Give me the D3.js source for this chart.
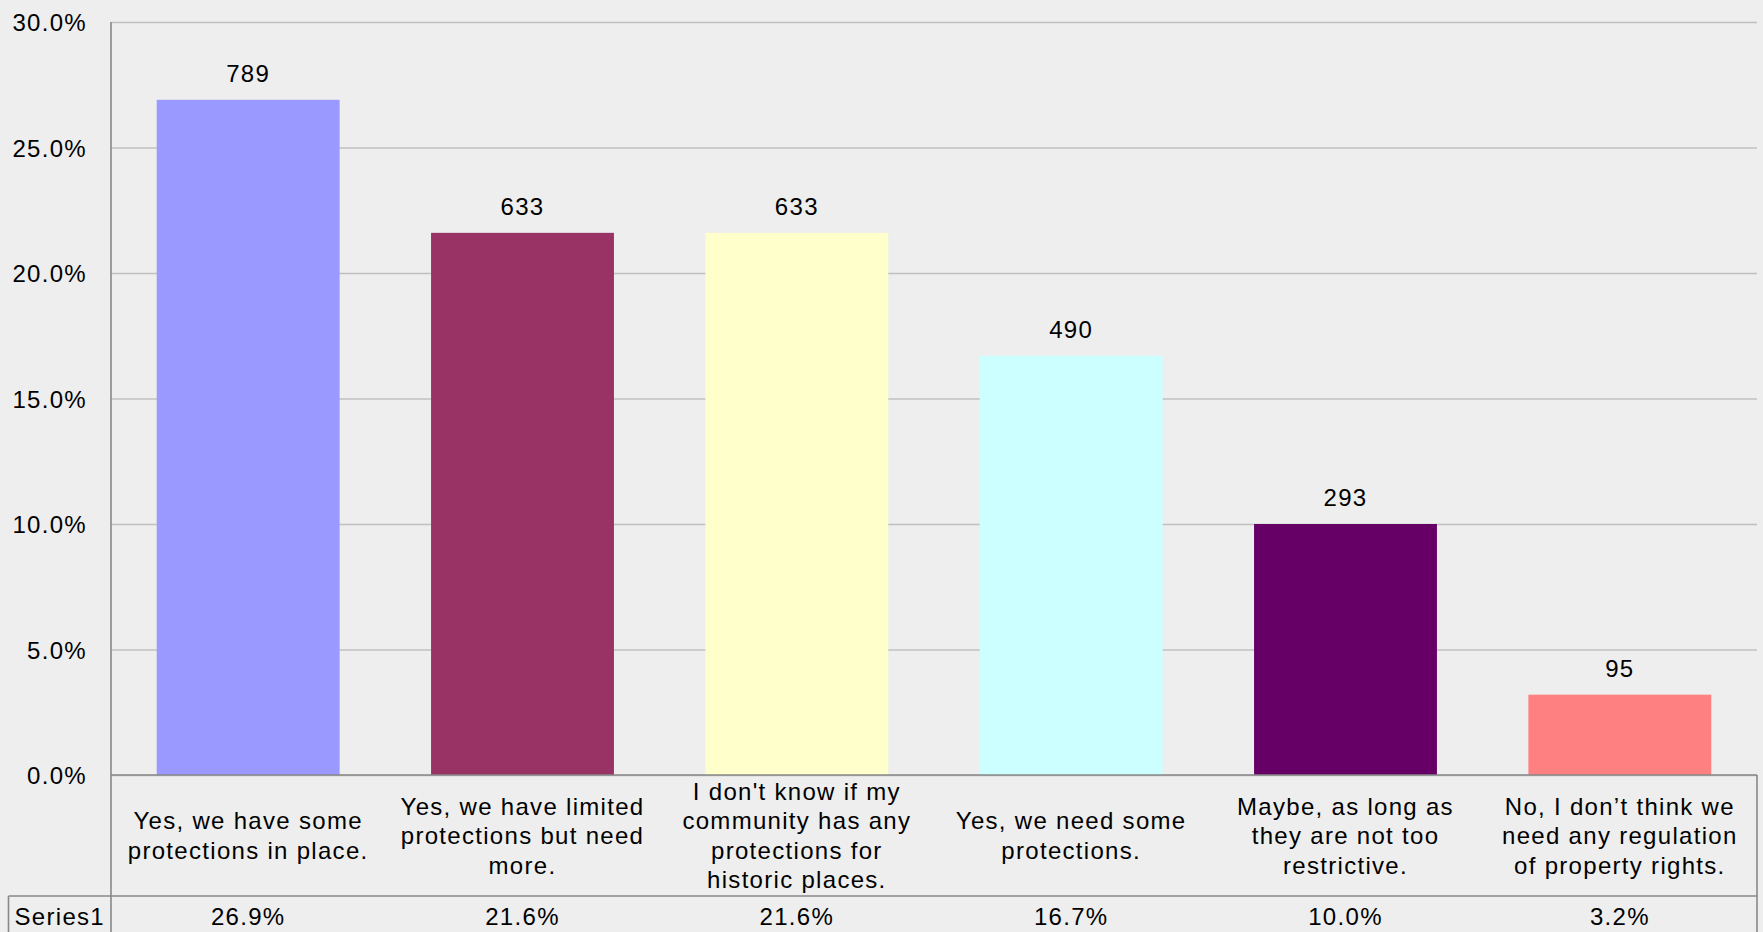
<!DOCTYPE html>
<html><head><meta charset="utf-8">
<script src="https://cdn.jsdelivr.net/npm/d3@7"></script>
<style>
body{margin:0;background:#eeeeee;}
svg{display:block;}
text{font-family:"Liberation Sans",Arial,sans-serif;font-size:24px;letter-spacing:1.3px;fill:#000;}
</style>
</head><body>
<svg id="chart" width="1763" height="932"></svg>
<script>
const categories = [
  "Yes, we have some protections in place.",
  "Yes, we have limited protections but need more.",
  "I don't know if my community has any protections for historic places.",
  "Yes, we need some protections.",
  "Maybe, as long as they are not too restrictive.",
  "No, I don\u2019t think we need any regulation of property rights."
];
const percents = [26.9, 21.6, 21.6, 16.7, 10.0, 3.2];
const counts = [789, 633, 633, 490, 293, 95];
const colors = ["#9999FF", "#993366", "#FFFFCC", "#CCFFFF", "#660066", "#FF8080"];
const yTicks = [0, 5, 10, 15, 20, 25, 30];
const seriesName = "Series1";

const W = 1763, H = 932;
const plotLeft = 111, plotRight = 1757, plotTop = 22, plotBottom = 775;
const rowSep = 896, tableBottom = 938, seriesLeft = 8.5;

const svg = d3.select("#chart");
svg.append("rect").attr("width", W).attr("height", H).attr("fill", "#eeeeee");

const x = d3.scaleBand().domain(categories).range([plotLeft, plotRight])
  .paddingInner(1/3).paddingOuter(1/6);
const y = d3.scaleLinear().domain([0, 30]).range([plotBottom, plotTop]);

// gridlines + tick labels
const yAxis = d3.axisLeft(y).tickValues(yTicks)
  .tickSize(-(plotRight - plotLeft)).tickPadding(24)
  .tickFormat(d => d.toFixed(1) + "%");
const gy = svg.append("g").attr("transform", `translate(${plotLeft},0)`).call(yAxis);
gy.select(".domain").remove();
gy.selectAll(".tick line").attr("stroke", "#c0c0c0").attr("stroke-width", 1.6);
gy.selectAll(".tick text").attr("font-size", null).attr("font-family", null)
  .style("font-size", "24px").attr("fill", "#000").attr("dy", "0.36em");

// bars
svg.append("g").selectAll("rect").data(categories).join("rect")
  .attr("x", d => x(d))
  .attr("y", (d, i) => y(percents[i]))
  .attr("width", x.bandwidth())
  .attr("height", (d, i) => y(0) - y(percents[i]))
  .attr("fill", (d, i) => colors[i]);

// count labels
svg.append("g").selectAll("text").data(categories).join("text")
  .attr("x", d => x(d) + x.bandwidth() / 2)
  .attr("y", (d, i) => y(percents[i]) - 18)
  .attr("text-anchor", "middle")
  .text((d, i) => counts[i]);

// table lines
const lineColor = "#888888";
const lines = [
  [plotLeft, plotBottom, plotRight, plotBottom],
  [seriesLeft, rowSep, plotRight, rowSep],
  [plotLeft, plotTop, plotLeft, tableBottom],
  [plotRight, plotBottom, plotRight, tableBottom],
  [seriesLeft, rowSep, seriesLeft, tableBottom],
  [seriesLeft, tableBottom - 1, plotRight, tableBottom - 1]
];
svg.append("g").selectAll("line").data(lines).join("line")
  .attr("x1", d => d[0]).attr("y1", d => d[1])
  .attr("x2", d => d[2]).attr("y2", d => d[3])
  .attr("stroke", lineColor).attr("stroke-width", 1.6);

// category labels (wrapped)
const maxW = 255, lineH = 29.5;
const catG = svg.append("g");
categories.forEach(cat => {
  const cx = x(cat) + x.bandwidth() / 2;
  const words = cat.split(" ");
  const t = catG.append("text").attr("text-anchor", "middle");
  const linesOut = [];
  let cur = [];
  words.forEach(w => {
    const test = cur.concat([w]).join(" ");
    t.text(test);
    if (t.node().getComputedTextLength() > maxW && cur.length) {
      linesOut.push(cur.join(" "));
      cur = [w];
    } else cur.push(w);
  });
  if (cur.length) linesOut.push(cur.join(" "));
  t.text(null);
  const mid = (plotBottom + rowSep) / 2;
  const firstBase = mid - (linesOut.length - 1) * lineH / 2 + 8.5;
  linesOut.forEach((ln, k) => {
    t.append("tspan").attr("x", cx).attr("y", firstBase + k * lineH).text(ln);
  });
});

// series row
svg.append("text").attr("x", (seriesLeft + plotLeft) / 2).attr("y", rowSep + 29)
  .attr("text-anchor", "middle").text(seriesName);
svg.append("g").selectAll("text").data(categories).join("text")
  .attr("x", d => x(d) + x.bandwidth() / 2)
  .attr("y", rowSep + 29)
  .attr("text-anchor", "middle")
  .text((d, i) => percents[i].toFixed(1) + "%");
</script>
</body></html>
